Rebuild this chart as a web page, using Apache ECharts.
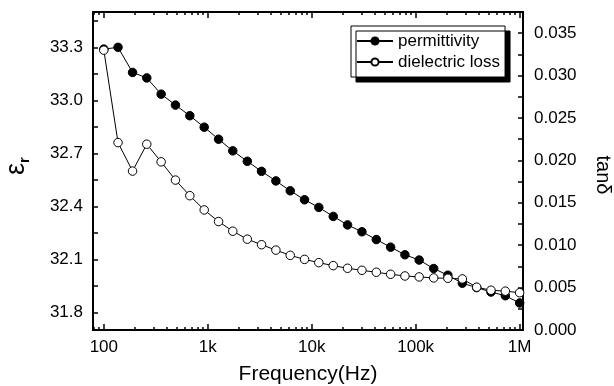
<!DOCTYPE html>
<html>
<head>
<meta charset="utf-8">
<script src="https://cdn.jsdelivr.net/npm/echarts@6/dist/echarts.min.js"></script>
<style>html,body{margin:0;padding:0;background:#fff}#c{width:614px;height:386px}</style>
</head>
<body>
<div id="c"></div>
<script>
// Frequencies (Hz), 30-point log sweep 100 Hz .. 1 MHz
var freq = [100, 137, 189, 259, 356, 489, 672, 924, 1270, 1740, 2400, 3290, 4520, 6210, 8530,
            11700, 16100, 22100, 30400, 41800, 57400, 78800, 108000, 149000, 204000, 281000,
            386000, 530000, 728000, 1000000];
// permittivity (left axis)
var permittivity = [33.29, 33.30, 33.158, 33.127, 33.035, 32.973, 32.913, 32.848, 32.780, 32.714,
                    32.655, 32.598, 32.544, 32.488, 32.437, 32.394, 32.343, 32.295, 32.256, 32.212,
                    32.169, 32.126, 32.096, 32.048, 32.010, 31.965, 31.940, 31.915, 31.894, 31.853];
// dielectric loss tan delta (right axis)
var loss = [0.0330, 0.0221, 0.01874, 0.02191, 0.01983, 0.01768, 0.01584, 0.01416, 0.01279, 0.01165,
            0.01071, 0.01006, 0.00942, 0.00880, 0.00833, 0.00794, 0.00759, 0.00728, 0.00704, 0.00681,
            0.00657, 0.00637, 0.00626, 0.00614, 0.00610, 0.00602, 0.00505, 0.00469, 0.00458, 0.00440];
var xLabels = [100, 1000, 10000, 100000, 1000000];
var xLabelText = {100: '100', 1000: '1k', 10000: '10k', 100000: '100k', 1000000: '1M'};
var xMinorTicks = [80, 90, 200, 300, 400, 500, 600, 700, 800, 900, 2000, 3000, 4000, 5000, 6000, 7000, 8000, 9000,
                   20000, 30000, 40000, 50000, 60000, 70000, 80000, 90000,
                   200000, 300000, 400000, 500000, 600000, 700000, 800000, 900000];
var leftLabels = [31.8, 32.1, 32.4, 32.7, 33.0, 33.3];
var leftTicks = [31.8, 31.95, 32.1, 32.25, 32.4, 32.55, 32.7, 32.85, 33.0, 33.15, 33.3, 33.45];
var rightLabels = [0, 0.005, 0.01, 0.015, 0.02, 0.025, 0.03, 0.035];
var rightTicks = [0, 0.0025, 0.005, 0.0075, 0.01, 0.0125, 0.015, 0.0175, 0.02, 0.0225, 0.025, 0.0275, 0.03, 0.0325, 0.035];

var FONT = 'Liberation Sans';
var XMIN = 78.7, XMAX = 1077000;

function pairs(xs, ys) { return xs.map(function (x, i) { return [x, ys[i]]; }); }

function xAxisDef(pos, showLabels, ticks, len) {
  return {
    type: 'log', logBase: 10, position: pos, min: XMIN, max: XMAX,
    axisLine: { show: true, onZero: false, lineStyle: { color: '#000', width: 2 } },
    axisTick: { show: true, inside: true, length: len, customValues: ticks, lineStyle: { color: '#000', width: 1.5 } },
    axisLabel: { show: showLabels, customValues: xLabels, margin: 9, color: '#000', fontFamily: FONT, fontSize: 17,
      formatter: function (v) { var k = Math.round(v); return xLabelText[k] || ''; } },
    splitLine: { show: false }, minorTick: { show: false }
  };
}

var chart = echarts.init(document.getElementById('c'), null, { renderer: 'canvas' });
var xa0 = xAxisDef('bottom', true, xLabels, 6);
xa0.name = 'Frequency(Hz)';
xa0.nameLocation = 'middle';
xa0.nameGap = 34;
xa0.nameTextStyle = { color: '#000', fontFamily: FONT, fontSize: 21 };

chart.setOption({
  animation: false,
  backgroundColor: '#fff',
  grid: { left: 93, right: 91, top: 12, bottom: 56, containLabel: false, outerBoundsMode: 'none' },
  legend: {
    orient: 'vertical', left: 351, top: 26,
    padding: [5, 5, 5, 5], itemGap: 1, itemWidth: 36, itemHeight: 9,
    backgroundColor: '#fff', borderColor: '#000', borderWidth: 1,
    shadowColor: '#000', shadowBlur: 0, shadowOffsetX: 5, shadowOffsetY: 5,
    textStyle: { color: '#000', fontFamily: FONT, fontSize: 17, lineHeight: 20 },
    data: ['permittivity', 'dielectric loss']
  },
  xAxis: [
    xa0,
    xAxisDef('bottom', false, xMinorTicks, 3),
    xAxisDef('top', false, xLabels, 6),
    xAxisDef('top', false, xMinorTicks, 3)
  ],
  yAxis: [
    {
      type: 'value', position: 'left', min: 31.7, max: 33.5,
      axisLine: { show: true, lineStyle: { color: '#000', width: 2 } },
      axisTick: { show: true, inside: true, length: 5, customValues: leftTicks, lineStyle: { color: '#000', width: 1.5 } },
      axisLabel: { customValues: leftLabels, margin: 10, color: '#000', fontFamily: FONT, fontSize: 17,
        formatter: function (v) { return v.toFixed(1); } },
      splitLine: { show: false }
    },
    {
      type: 'value', position: 'right', min: 0, max: 0.0375,
      axisLine: { show: true, lineStyle: { color: '#000', width: 2 } },
      axisTick: { show: true, inside: true, length: 5, customValues: rightTicks, lineStyle: { color: '#000', width: 1.5 } },
      axisLabel: { customValues: rightLabels, margin: 11, color: '#000', fontFamily: FONT, fontSize: 17,
        formatter: function (v) { return v.toFixed(3); } },
      splitLine: { show: false }
    }
  ],
  series: [
    {
      name: 'permittivity', type: 'line', xAxisIndex: 0, yAxisIndex: 0,
      data: pairs(freq, permittivity),
      symbol: 'circle', symbolSize: 8.5,
      lineStyle: { color: '#000', width: 1 },
      itemStyle: { color: '#000', borderColor: '#000', borderWidth: 1 }
    },
    {
      name: 'dielectric loss', type: 'line', xAxisIndex: 0, yAxisIndex: 1,
      data: pairs(freq, loss),
      symbol: 'circle', symbolSize: 8.5,
      lineStyle: { color: '#000', width: 1 },
      itemStyle: { color: '#fff', borderColor: '#000', borderWidth: 1 }
    }
  ],
  graphic: [
    {
      type: 'text', x: 17, y: 166, rotation: Math.PI / 2,
      style: {
        text: '{e|ε}{r|r}', align: 'center', verticalAlign: 'middle',
        rich: {
          e: { fontFamily: FONT, fontSize: 27, lineHeight: 30, fill: '#000' },
          r: { fontFamily: FONT, fontSize: 15, fontWeight: 'bold', verticalAlign: 'bottom', lineHeight: 14, fill: '#000' }
        }
      }
    },
    {
      type: 'text', x: 603, y: 175, rotation: -Math.PI / 2,
      style: { text: 'tanδ', align: 'center', verticalAlign: 'middle', fontFamily: FONT, fontSize: 20, fill: '#000' }
    }
  ]
});
</script>
</body>
</html>
